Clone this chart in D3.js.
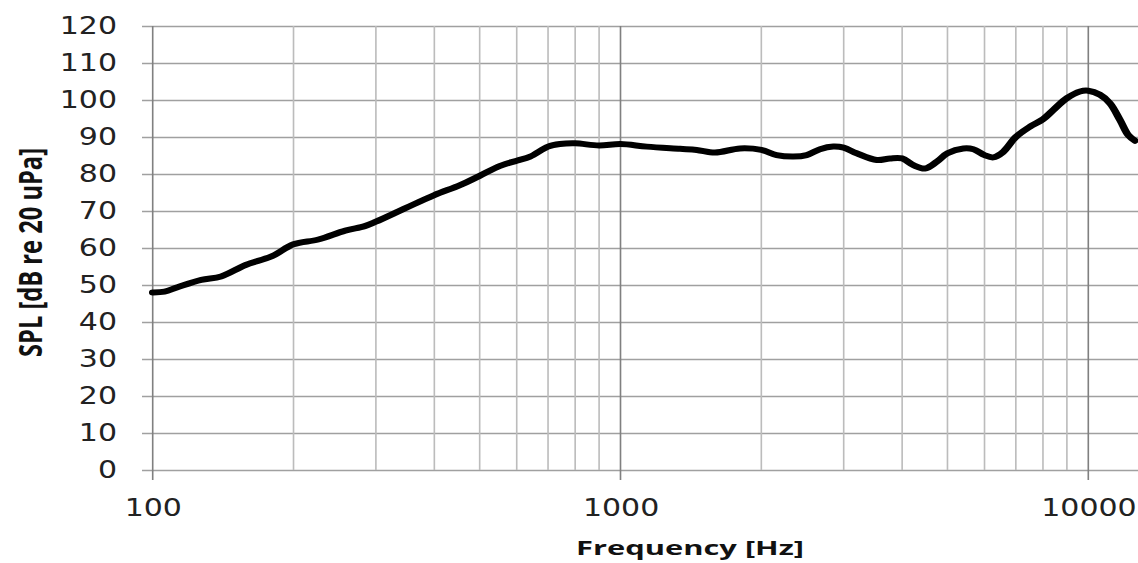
<!DOCTYPE html>
<html>
<head>
<meta charset="utf-8">
<script src="https://cdn.jsdelivr.net/npm/d3@7"></script>
<style>
  body { margin: 0; background: #fff; }
  svg { display: block; }
</style>
</head>
<body>
<div id="my_dataviz"></div>
<script>
// frequency response readings (Hz, dB SPL)
const freqs = [100, 106, 113, 127, 140, 158, 180, 200, 226, 258, 284, 300, 346, 400, 454,
  500, 553, 600, 641, 700, 742, 800, 900, 1000, 1138, 1341, 1455, 1592, 1801, 2000,
  2157, 2341, 2500, 2670, 2850, 3000, 3198, 3529, 3768, 4000, 4227, 4477, 4742, 5000,
  5406, 5680, 6000, 6266, 6581, 7000, 7506, 8000, 8418, 9000, 9601, 10000, 10593,
  11127, 11688, 12176, 12585];
const spl = [48.0, 48.2, 49.4, 51.4, 52.3, 55.4, 57.8, 61.0, 62.3, 64.7, 65.9, 67.1, 70.7, 74.3, 77.0,
  79.5, 82.2, 83.6, 84.7, 87.4, 88.1, 88.3, 87.7, 88.1, 87.4, 86.8, 86.5, 85.8, 86.9, 86.5,
  85.1, 84.7, 85.1, 86.7, 87.4, 87.1, 85.6, 83.8, 84.2, 84.2, 82.4, 81.5, 83.3, 85.6,
  86.9, 86.7, 85.1, 84.5, 86.0, 90.0, 92.8, 94.8, 97.3, 100.5, 102.3, 102.5, 101.4,
  99.1, 94.6, 90.5, 89.0];

const xTickLabels = [100, 1000, 10000];
const yTicks = [0, 10, 20, 30, 40, 50, 60, 70, 80, 90, 100, 110, 120];
// log grid: 1..9 in each decade, plus the last power
const xGrid = [];
[100, 1000].forEach(d => { for (let k = 1; k <= 9; k++) xGrid.push(d * k); });
xGrid.push(10000);

// the picture is stretched sideways, so draw in a narrower box and let the viewBox widen it
const SX = 1.25;
const W = 1138 / SX, H = 563;

const svg = d3.select("#my_dataviz")
  .append("svg")
    .attr("width", 1138)
    .attr("height", 563)
    .attr("viewBox", `0 0 ${W} ${H}`)
    .attr("preserveAspectRatio", "none");

const x = d3.scaleLog()
  .domain([100, 10000])
  .range([152.7 / SX, 1088.3 / SX]);

const y = d3.scaleLinear()
  .domain([0, 120])
  .range([470, 26]);

const gridLeft = 142 / SX;

// horizontal grid + y labels
svg.append("g")
  .attr("transform", `translate(${gridLeft},0)`)
  .call(d3.axisLeft(y)
    .tickValues(yTicks)
    .tickSizeInner(-(W - gridLeft))
    .tickSizeOuter(0)
    .tickPadding(20))
  .call(g => g.select(".domain").remove())
  .call(g => g.selectAll("line").attr("stroke", "#a0a0a0").attr("stroke-width", 1.4))
  .call(g => g.selectAll("text")
    .attr("font-family", "DejaVu Sans")
    .attr("font-size", "24px")
    .attr("fill", "#222"));

// vertical grid
svg.append("g")
  .selectAll("line")
  .data(xGrid)
  .join("line")
    .attr("x1", d => x(d))
    .attr("x2", d => x(d))
    .attr("y1", y(120))
    .attr("y2", d => xTickLabels.includes(d) ? 480 : y(0))
    .attr("stroke", d => xTickLabels.includes(d) ? "#808080" : "#bcbcbc")
    .attr("stroke-width", 1.3);

// x labels
svg.append("g")
  .attr("transform", `translate(0,${y(0)})`)
  .call(d3.axisBottom(x)
    .tickValues(xTickLabels)
    .tickFormat(d3.format("d"))
    .tickSize(0)
    .tickPadding(29))
  .call(g => g.select(".domain").remove())
  .call(g => g.selectAll("text")
    .attr("font-family", "DejaVu Sans")
    .attr("font-size", "24px")
    .attr("fill", "#222"));

// response curve
const pts = freqs.map((f, i) => [f, spl[i]]);
svg.append("path")
  .datum(pts)
  .attr("fill", "none")
  .attr("stroke", "#000")
  .attr("stroke-width", 6)
  .attr("stroke-linejoin", "round")
  .attr("stroke-linecap", "round")
  .attr("d", d3.line()
    .x(d => x(d[0]))
    .y(d => y(d[1]))
    .curve(d3.curveCatmullRom.alpha(0.5)));

// axis titles
svg.append("text")
  .attr("x", 690 / SX)
  .attr("y", 555)
  .attr("text-anchor", "middle")
  .attr("font-family", "Open Sans")
  .attr("font-weight", "bold")
  .attr("font-size", "20px")
  .attr("textLength", 228 / SX)
  .attr("lengthAdjust", "spacingAndGlyphs")
  .attr("fill", "#111")
  .text("Frequency [Hz]");

svg.append("text")
  .attr("transform", `translate(${41.5 / SX},252.5) rotate(-90)`)
  .attr("text-anchor", "middle")
  .attr("font-family", "Open Sans")
  .attr("font-weight", "bold")
  .attr("font-size", "25px")
  .attr("textLength", 209)
  .attr("lengthAdjust", "spacingAndGlyphs")
  .attr("fill", "#111")
  .text("SPL [dB re 20 uPa]");
</script>
</body>
</html>
